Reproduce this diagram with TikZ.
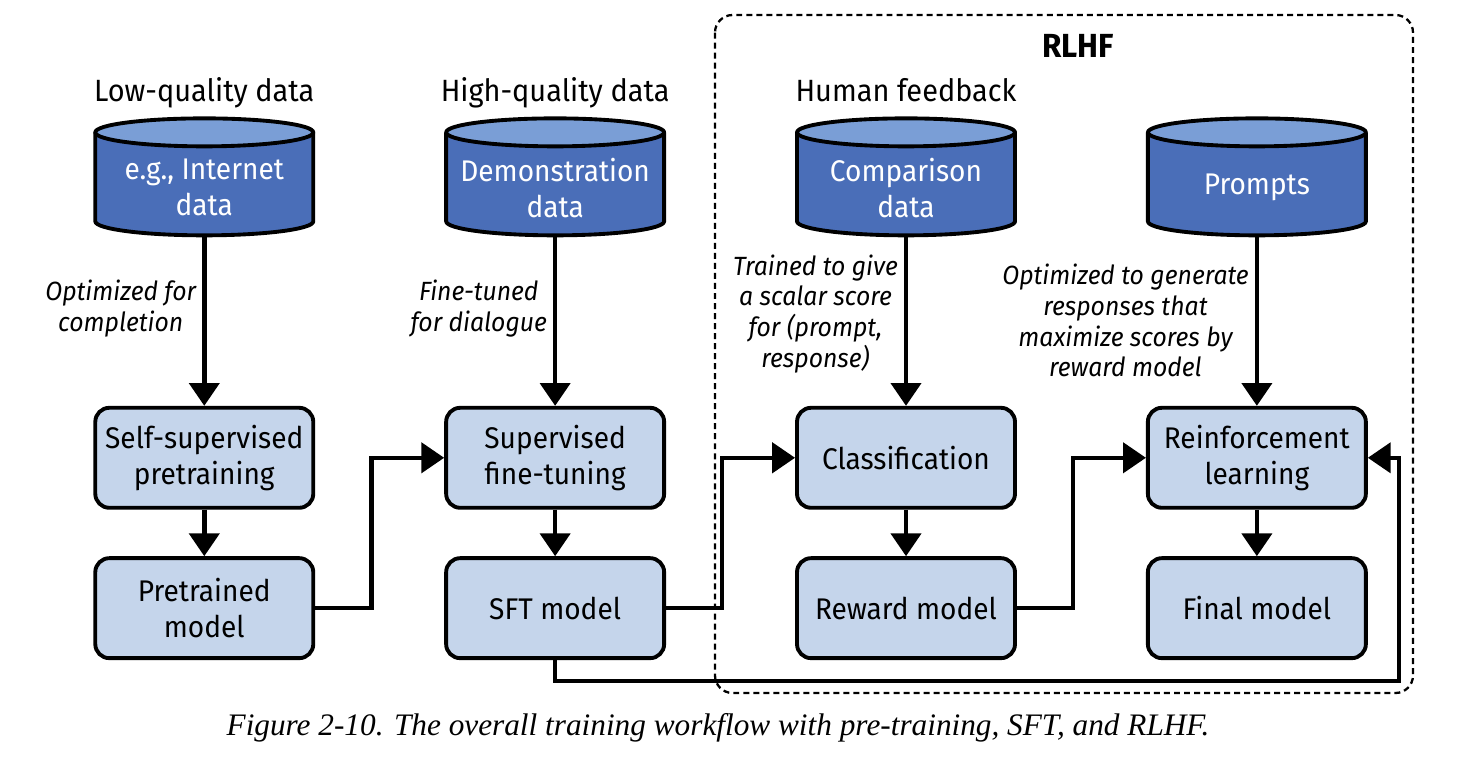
\documentclass[tikz,border=0pt]{standalone}
\usepackage{fontspec}
\setmainfont{Fira Sans}[FakeStretch=0.94]
\newfontfamily\capfont{Liberation Serif}
\usetikzlibrary{matrix,arrows.meta,backgrounds,positioning}

\definecolor{boxblue}{HTML}{C5D5EB}
\definecolor{cylblue}{HTML}{4A6EB8}
\definecolor{cyltop}{HTML}{7A9ED6}

\tikzset{
  box/.style={draw, anchor=center, rounded corners=8pt, fill=boxblue, line width=2.2pt, inner sep=3pt,
    minimum width=4.36cm, minimum height=2cm, align=center,
    font=\fontsize{17}{20.5}\selectfont},
  cyl/.style={rectangle, anchor=center, inner sep=3pt, outer sep=0pt,
    minimum width=4.36cm, minimum height=1.9cm, align=center,
    text=white, font=\fontsize{17}{20.5}\selectfont},
  cylline/.style={line width=2.2pt, line join=round},
  head/.style={anchor=base, font=\fontsize{17.5}{21}\selectfont},
  lbl/.style={font=\itshape\fontsize{15}{17.5}\selectfont, align=center},
  flow/.style={line width=2.6pt, -{Triangle[length=13pt,width=17pt]}}
}

\begin{document}
\begin{tikzpicture}
\useasboundingbox (0,0) rectangle (29.4,-15.2);
\matrix (m) [anchor=north west, inner sep=0pt, row sep=0.93cm, column sep=2.58cm] at (1.86,-2.8)
{
	\node[cyl] (inet) {e.g., Internet\\data}; & \node[cyl] (demo) {Demonstration\\data}; & \node[cyl] (comp) {Comparison\\data}; & \node[cyl] (prom) {Prompts}; \\[2.48cm]
	\node[box] (ssp) {Self-supervised\\pretraining}; & \node[box] (sft) {Supervised\\fine-tuning}; & \node[box] (cls) {Classification}; & \node[box] (rl) {Reinforcement\\learning}; \\
	\node[box] (pre) {Pretrained\\model}; & \node[box] (sftm) {SFT model}; & \node[box] (rm) {Reward model}; & \node[box] (fin) {Final model}; \\
};

% data stores
\begin{pgfonlayer}{background}
\foreach \c in {inet,demo,comp,prom}{
	\fill[cylblue] ([yshift=0.16cm]\c.north west) -- ([yshift=0.28cm]\c.south west)
		arc[start angle=180, end angle=360, x radius=2.18cm, y radius=0.28cm] -- ([yshift=0.16cm]\c.north east) -- cycle;
	\draw[cylline] ([yshift=0.16cm]\c.north west) -- ([yshift=0.28cm]\c.south west)
		arc[start angle=180, end angle=360, x radius=2.18cm, y radius=0.28cm] -- ([yshift=0.16cm]\c.north east);
	\filldraw[cylline, fill=cyltop] ([yshift=0.16cm]\c.north) ellipse[x radius=2.18cm, y radius=0.28cm];
}
\end{pgfonlayer}

% headers
\node[head] (h1) at ([yshift=0.78cm]inet.north) {Low-quality data};
\node[head] (h2) at ([yshift=0.78cm]demo.north) {High-quality data};
\node[head] (h3) at ([yshift=0.78cm]comp.north) {Human feedback};

% RLHF frame
\draw[line width=1.3pt, dash pattern=on 3.4pt off 2.3pt, rounded corners=10pt] (14.3,-0.3) rectangle (28.26,-13.86);
\node[anchor=base, font=\bfseries\fontsize{19}{22}\selectfont] (rlhf) at (21.56,-1.14) {RLHF};

\path[flow]
(inet) edge node [lbl, left, pos=0.43] {Optimized for\\completion} (ssp)
(demo) edge node [lbl, left, pos=0.43] {Fine-tuned\\for dialogue} (sft)
(comp) edge node [lbl, left, pos=0.46] {Trained to give\\a scalar score\\for (prompt,\\response)} (cls)
(prom) edge node [lbl, left, pos=0.5] {Optimized to generate\\responses that\\maximize scores by\\reward model} (rl)
(ssp) edge (pre)
(sft) edge (sftm)
(cls) edge (rm)
(rl) edge (fin);

\draw[flow] (pre.east) -- ++(1.12,0) |- (sft.west);
\draw[flow] (sftm.east) -- ++(1.12,0) |- (cls.west);
\draw[flow] (rm.east) -- ++(1.12,0) |- (rl.west);
\draw[flow] (sftm.south) -- ++(0,-0.42) -| ([xshift=0.62cm]rl.east) -- (rl.east);

\node[font=\capfont\itshape\fontsize{17.8}{20}\selectfont] (cap) at (14.36,-14.56) {Figure 2-10. The overall training workflow with pre-training, SFT, and RLHF.};
\end{tikzpicture}
\end{document}
